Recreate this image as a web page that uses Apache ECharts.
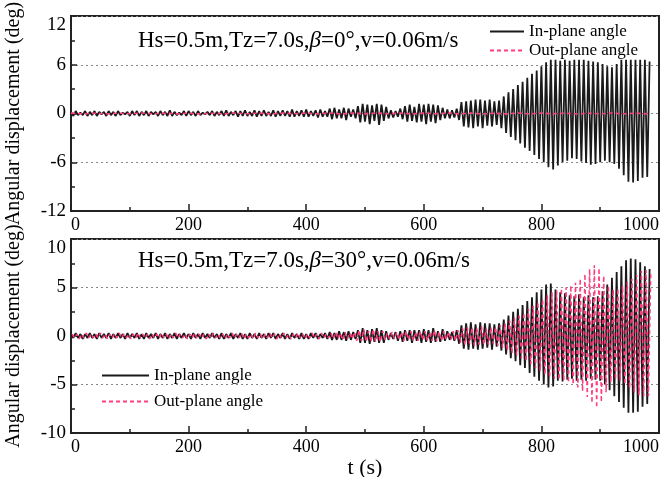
<!DOCTYPE html>
<html>
<head>
<meta charset="utf-8">
<script src="https://cdn.jsdelivr.net/npm/echarts@6/dist/echarts.min.js"></script>
<style>html,body{margin:0;padding:0;background:#fff}#c{width:667px;height:477px}</style>
</head>
<body>
<div id="c"></div>
<script>
// time step (s) between successive half-cycle extremes
var DT = 4;
var DT_OUT_TOP = 20;
var xTicks = [0, 200, 400, 600, 800, 1000];
var yTicksTop = [-12, -6, 0, 6, 12];
var yTicksBot = [-10, -5, 0, 5, 10];
var seriesNames = ['In-plane angle', 'Out-plane angle'];
var titleTop = 'Hs=0.5m,Tz=7.0s,β=0°,v=0.06m/s';
var titleBot = 'Hs=0.5m,Tz=7.0s,β=30°,v=0.06m/s';

// Top panel (beta = 0 deg): in-plane angle, t = 0,4,8,...
var inTop = [
 0.2,-0.3,0.3,-0.2,0.1,-0.2,0.3,-0.3,0.2,-0.2,
 0.3,-0.3,0.2,-0.1,0.2,-0.3,0.3,-0.2,0.2,-0.3,
 0.3,-0.2,0.1,-0.1,0.2,-0.3,0.3,-0.2,0.3,-0.3,
 0.2,-0.2,0.3,-0.3,0.2,-0.1,0.2,-0.3,0.3,-0.2,
 0.2,-0.3,0.4,-0.3,0.2,-0.2,0.1,-0.2,0.3,-0.3,
 0.3,-0.2,0.2,-0.3,0.3,-0.2,0.1,-0.1,0.2,-0.2,
 0.3,-0.3,0.2,-0.2,0.3,-0.3,0.4,-0.3,0.2,-0.2,
 0.3,-0.4,0.3,-0.3,0.4,-0.3,0.2,-0.3,0.4,-0.4,
 0.3,-0.3,0.4,-0.3,0.2,-0.3,0.4,-0.4,0.3,-0.3,
 0.4,-0.3,0.3,-0.4,0.5,-0.4,0.3,-0.3,0.4,-0.4,
 0.5,-0.4,0.3,-0.3,0.4,-0.5,0.5,-0.4,0.3,-0.4,
 0.6,-0.7,0.7,-0.6,0.5,-0.6,0.7,-0.8,0.6,-0.4,
 0.5,-0.6,0.9,-1.1,1.2,-1.0,1.1,-1.3,1.0,-0.9,
 1.2,-1.4,1.1,-0.9,0.8,-0.6,0.4,-0.5,0.3,-0.4,
 0.6,-0.7,0.9,-1.0,1.1,-0.9,0.8,-1.1,1.2,-1.0,
 1.1,-1.3,1.2,-1.0,1.1,-1.2,1.0,-0.8,0.7,-0.6,
 0.5,-0.6,0.4,-0.5,0.6,-0.8,1.4,-1.6,1.5,-1.7,
 1.6,-1.8,1.7,-1.6,1.7,-1.8,1.6,-1.5,1.7,-1.6,
 1.5,-1.4,1.6,-1.8,2.1,-2.4,2.6,-2.9,3.0,-3.3,
 3.5,-3.7,3.9,-4.2,4.4,-4.6,4.9,-5.1,5.3,-5.6,
 5.8,-6.0,6.3,-6.6,6.6,-6.9,6.6,-6.4,6.5,-6.0,
 6.6,-5.8,6.5,-5.5,6.6,-5.6,6.6,-5.9,6.6,-6.1,
 6.5,-6.3,6.4,-6.2,6.3,-6.0,6.1,-5.8,5.8,-6.0,
 5.7,-6.2,6.1,-6.8,6.6,-7.6,6.6,-8.4,6.6,-8.5,
 6.6,-8.3,6.6,-7.9,6.6,-7.8,6.4
];
// Top panel: out-plane angle, t = 0,20,40,...
var outTop = [
 0.05,-0.05,0.04,-0.06,0.05,-0.04,0.06,-0.05,0.04,-0.05,
 0.05,-0.06,0.04,-0.05,0.06,-0.04,0.05,-0.05,0.06,-0.04,
 0.05,-0.05,0.06,-0.06,0.05,-0.05,0.06,-0.04,0.05,-0.06,
 0.05,-0.04,0.06,-0.05,0.05,-0.06,0.04,-0.05,0.06,-0.05,
 0.06,-0.05,0.05,-0.06,0.04,-0.05,0.06,-0.05,0.05,-0.05
];
// Bottom panel (beta = 30 deg): in-plane angle, t = 0,4,8,...
var inBot = [
 0.2,-0.2,0.3,-0.2,0.2,-0.3,0.2,-0.2,0.3,-0.2,
 0.2,-0.3,0.3,-0.2,0.2,-0.2,0.3,-0.3,0.2,-0.2,
 0.3,-0.2,0.2,-0.3,0.3,-0.2,0.2,-0.2,0.3,-0.3,
 0.2,-0.3,0.3,-0.2,0.2,-0.2,0.3,-0.3,0.2,-0.2,
 0.3,-0.3,0.2,-0.2,0.3,-0.3,0.2,-0.2,0.3,-0.2,
 0.2,-0.3,0.3,-0.2,0.2,-0.3,0.3,-0.2,0.2,-0.2,
 0.3,-0.2,0.2,-0.3,0.3,-0.3,0.2,-0.2,0.3,-0.3,
 0.2,-0.2,0.3,-0.3,0.2,-0.3,0.3,-0.2,0.2,-0.3,
 0.3,-0.2,0.2,-0.3,0.3,-0.2,0.3,-0.3,0.2,-0.2,
 0.3,-0.3,0.2,-0.3,0.3,-0.2,0.2,-0.3,0.3,-0.3,
 0.2,-0.3,0.3,-0.2,0.3,-0.3,0.2,-0.2,0.3,-0.3,
 0.4,-0.4,0.3,-0.4,0.5,-0.4,0.4,-0.5,0.5,-0.4,
 0.4,-0.3,0.6,-0.7,0.8,-0.7,0.6,-0.8,0.7,-0.6,
 0.8,-0.7,0.6,-0.7,0.5,-0.4,0.3,-0.3,0.4,-0.5,
 0.5,-0.6,0.6,-0.5,0.6,-0.7,0.6,-0.5,0.6,-0.7,
 0.7,-0.6,0.6,-0.7,0.8,-0.6,0.5,-0.6,0.7,-0.5,
 0.5,-0.4,0.4,-0.5,0.6,-0.8,1.1,-1.3,1.3,-1.4,
 1.4,-1.3,1.2,-1.4,1.4,-1.3,1.3,-1.2,1.3,-1.4,
 1.2,-1.1,1.3,-1.5,1.7,-1.9,2.1,-2.3,2.5,-2.6,
 2.8,-3.0,3.2,-3.3,3.6,-3.8,4.0,-4.2,4.5,-4.6,
 4.8,-5.0,5.3,-5.3,5.4,-5.2,4.8,-4.6,4.5,-4.7,
 4.4,-4.5,4.2,-4.4,4.1,-4.6,4.3,-4.5,4.0,-4.6,
 4.2,-4.4,4.0,-4.5,4.1,-4.6,4.6,-5.0,5.3,-5.6,
 6.0,-6.2,6.6,-6.8,7.2,-7.4,7.8,-7.9,8.0,-7.9,
 7.9,-7.8,7.6,-7.3,7.2,-7.0,6.9
];
// Bottom panel: out-plane angle, t = 2,6,10,...
var outBot = [
 0.2,-0.2,0.2,-0.3,0.2,-0.2,0.3,-0.2,0.2,-0.2,
 0.2,-0.2,0.3,-0.2,0.2,-0.3,0.2,-0.2,0.2,-0.2,
 0.3,-0.2,0.2,-0.2,0.2,-0.3,0.2,-0.2,0.3,-0.2,
 0.2,-0.2,0.2,-0.3,0.2,-0.2,0.2,-0.2,0.3,-0.2,
 0.2,-0.3,0.2,-0.2,0.3,-0.2,0.2,-0.2,0.2,-0.3,
 0.2,-0.2,0.3,-0.2,0.2,-0.2,0.2,-0.3,0.2,-0.2,
 0.3,-0.2,0.2,-0.2,0.2,-0.3,0.2,-0.2,0.3,-0.2,
 0.2,-0.2,0.3,-0.3,0.2,-0.2,0.2,-0.3,0.3,-0.2,
 0.2,-0.3,0.2,-0.2,0.3,-0.2,0.2,-0.3,0.2,-0.2,
 0.3,-0.2,0.2,-0.3,0.2,-0.2,0.3,-0.2,0.2,-0.3,
 0.2,-0.2,0.3,-0.2,0.2,-0.3,0.3,-0.2,0.2,-0.2,
 0.3,-0.3,0.4,-0.3,0.3,-0.4,0.4,-0.3,0.3,-0.3,
 0.4,-0.5,0.6,-0.5,0.7,-0.6,0.5,-0.6,0.7,-0.6,
 0.5,-0.6,0.5,-0.4,0.3,-0.3,0.4,-0.3,0.4,-0.4,
 0.4,-0.5,0.5,-0.4,0.5,-0.5,0.4,-0.5,0.5,-0.4,
 0.5,-0.5,0.4,-0.5,0.6,-0.5,0.4,-0.5,0.5,-0.4,
 0.4,-0.4,0.5,-0.5,0.6,-0.7,0.8,-0.9,0.9,-0.8,
 0.9,-1.0,0.8,-0.9,1.0,-0.9,0.8,-0.9,0.9,-0.8,
 0.9,-1.0,1.1,-1.2,1.3,-1.5,1.6,-1.8,1.9,-2.0,
 2.1,-2.3,2.4,-2.6,2.8,-2.9,3.1,-3.3,3.5,-3.6,
 3.8,-4.0,4.2,-4.3,4.5,-4.4,4.7,-4.5,4.9,-4.6,
 5.0,-4.8,5.2,-5.0,5.5,-5.3,5.9,-5.7,6.4,-6.3,
 6.9,-6.9,7.3,-7.4,7.0,-6.8,6.2,-5.8,5.2,-4.8,
 4.8,-4.5,4.9,-4.6,5.2,-5.0,5.6,-5.4,5.9,-5.8,
 6.3,-6.1,6.7,-6.2,6.8,-6.2,6.5
];

function toXY(vals, t0, dt) {
  return vals.map(function (v, i) { return [t0 + i * dt, v]; });
}

var FONT = '"Liberation Serif","Times New Roman",serif';
var BLACK = '#1a1a1a';
var PINK = '#ff3d7f';

function plain(v) { return String(v); }

function xAx(gi, withName) {
  return {
    type: 'value', gridIndex: gi, min: xTicks[0], max: xTicks[xTicks.length - 1],
    interval: xTicks[1] - xTicks[0],
    name: withName ? 't (s)' : '', nameLocation: 'middle', nameGap: 22,
    nameTextStyle: { fontFamily: FONT, fontSize: 22, color: '#000' },
    axisLine: { show: true, onZero: false, lineStyle: { color: '#222', width: 2 } },
    axisTick: { show: true, inside: true, length: 7, lineStyle: { color: '#222', width: 1.5 } },
    minorTick: { show: true, splitNumber: 2, length: 4, lineStyle: { color: '#222', width: 1.5 } },
    axisLabel: { fontFamily: FONT, fontSize: 18, color: '#000', margin: 5, formatter: plain,
      alignMinLabel: 'left', alignMaxLabel: 'right' },
    splitLine: { show: false }
  };
}
function yAx(gi, ticks) {
  return {
    type: 'value', gridIndex: gi, min: ticks[0], max: ticks[ticks.length - 1],
    interval: ticks[1] - ticks[0],
    name: 'Angular displacement (deg)', nameLocation: 'middle', nameGap: 47,
    nameTextStyle: { fontFamily: FONT, fontSize: 20, color: '#000' },
    axisLine: { show: true, onZero: false, lineStyle: { color: '#222', width: 2 } },
    axisTick: { show: true, inside: true, length: 6, lineStyle: { color: '#222', width: 1.5 } },
    minorTick: { show: true, splitNumber: 2, length: 4, lineStyle: { color: '#222', width: 1.5 } },
    axisLabel: { fontFamily: FONT, fontSize: 19, color: '#000', margin: 5, formatter: plain,
      verticalAlignMaxLabel: 'top' },
    splitLine: { show: true, lineStyle: { color: '#888', width: 1, type: [2, 3] } }
  };
}

var titleStyle = { fontFamily: FONT, fontSize: 23, fontWeight: 'normal', color: '#000',
  rich: { i: { fontFamily: FONT, fontSize: 23, fontStyle: 'italic', color: '#000' } } };

var chart = echarts.init(document.getElementById('c'), null, { renderer: 'canvas' });
chart.setOption({
  animation: false,
  backgroundColor: '#fff',
  title: [
    { text: titleTop.replace('β', '{i|β}'), left: 138, top: 29, padding: 0, textStyle: titleStyle },
    { text: titleBot.replace('β', '{i|β}'), left: 138, top: 249, padding: 0, textStyle: titleStyle }
  ],
  legend: [
    { data: seriesNames, orient: 'vertical', left: 484, top: 18, itemWidth: 34, itemHeight: 12,
      itemGap: 2, itemStyle: { opacity: 0 }, textStyle: { fontFamily: FONT, fontSize: 17, color: '#000' } },
    { data: seriesNames, orient: 'vertical', left: 96, top: 362, itemWidth: 47, itemHeight: 12,
      itemGap: 9, itemStyle: { opacity: 0 }, textStyle: { fontFamily: FONT, fontSize: 17, color: '#000' } }
  ],
  grid: [
    { left: 71, top: 16, width: 588, height: 195, show: true, borderColor: '#222', borderWidth: 2,
      backgroundColor: 'transparent', containLabel: false, outerBoundsMode: 'none' },
    { left: 71, top: 239, width: 588, height: 194, show: true, borderColor: '#222', borderWidth: 2,
      backgroundColor: 'transparent', containLabel: false, outerBoundsMode: 'none' }
  ],
  xAxis: [xAx(0, false), xAx(1, true)],
  yAxis: [yAx(0, yTicksTop), yAx(1, yTicksBot)],
  series: [
    { name: seriesNames[0], type: 'line', xAxisIndex: 0, yAxisIndex: 0, data: toXY(inTop, 0, DT),
      symbol: 'none', lineStyle: { color: BLACK, width: 1.8 }, itemStyle: { color: BLACK } },
    { name: seriesNames[1], type: 'line', xAxisIndex: 0, yAxisIndex: 0, data: toXY(outTop, 0, DT_OUT_TOP),
      symbol: 'none', lineStyle: { color: PINK, width: 1.6, type: [4, 3] }, itemStyle: { color: PINK } },
    { name: seriesNames[0], type: 'line', xAxisIndex: 1, yAxisIndex: 1, data: toXY(inBot, 0, DT),
      symbol: 'none', lineStyle: { color: BLACK, width: 1.8 }, itemStyle: { color: BLACK } },
    { name: seriesNames[1], type: 'line', xAxisIndex: 1, yAxisIndex: 1, data: toXY(outBot, 2, DT),
      symbol: 'none', lineStyle: { color: PINK, width: 1.5, type: [4, 3] }, itemStyle: { color: PINK } }
  ]
});
</script>
</body>
</html>
